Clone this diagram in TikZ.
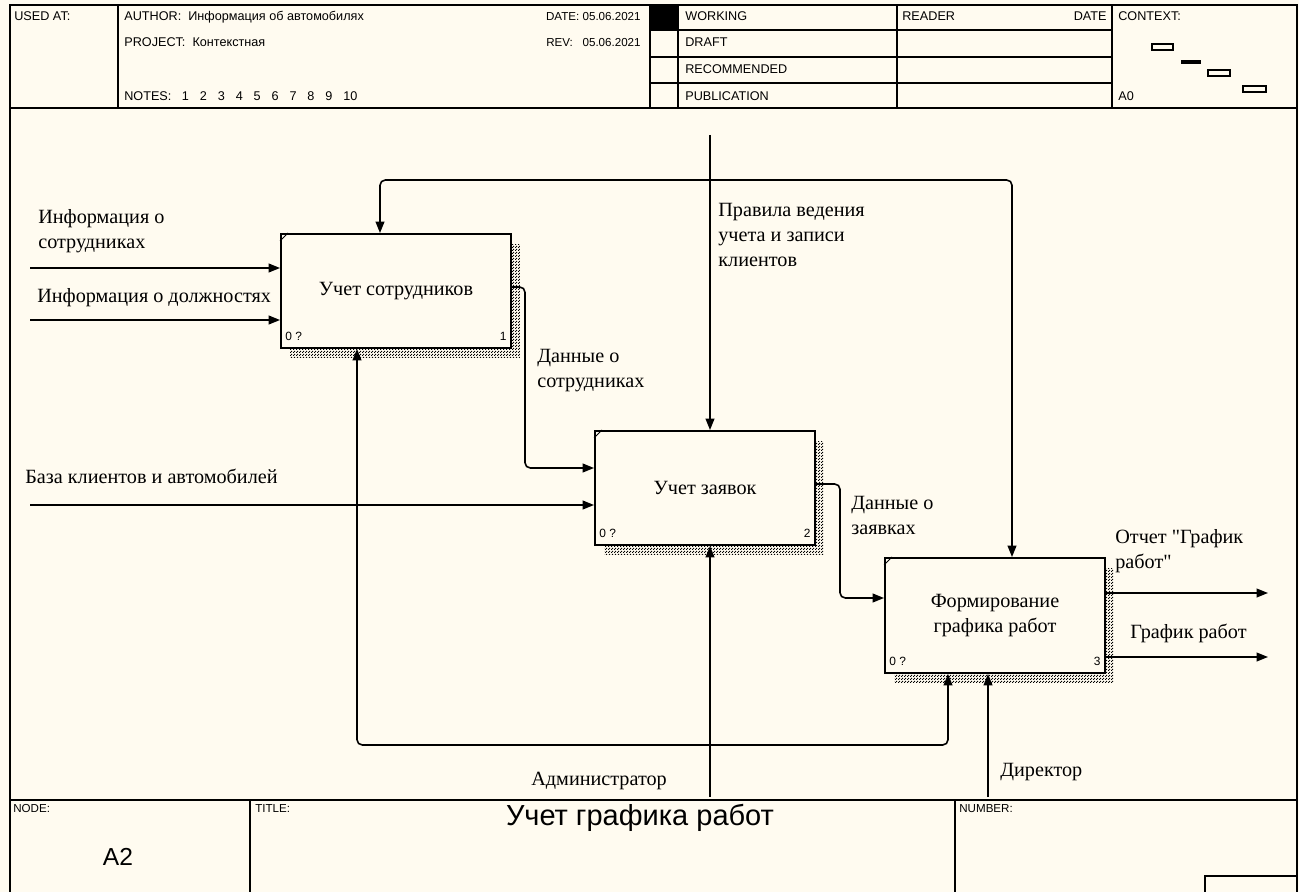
\documentclass[tikz,border=0pt]{standalone}
\usepackage{fontspec}
\setmainfont{Liberation Serif}
\newfontfamily\hdrfont{Liberation Sans}
\usetikzlibrary{arrows.meta,patterns,shadows,positioning}
\definecolor{paper}{HTML}{FFFBF0}
\pgfdeclarepatternformonly{hatchdots}{\pgfpointorigin}{\pgfqpoint{1.4pt}{1.4pt}}{\pgfqpoint{1.4pt}{1.4pt}}{%
  \pgfpathrectangle{\pgfpointorigin}{\pgfqpoint{0.8pt}{0.8pt}}%
  \pgfpathrectangle{\pgfqpoint{0.7pt}{0.7pt}}{\pgfqpoint{0.8pt}{0.8pt}}%
  \pgfusepath{fill}}

\begin{document}
\begin{tikzpicture}[x=0.02cm, y=-0.02cm,
    frame/.style={line width=1.1pt},
    grid/.style={line width=0.8pt},
    hdr/.style={font=\hdrfont\fontsize{7.2}{8}\selectfont, inner sep=0pt, anchor=base west},
    lbl/.style={font=\fontsize{11.5}{14.2}\selectfont, align=left, inner sep=0pt, anchor=north west},
    func/.style={draw, line width=1.1pt, fill=paper, minimum width=4.4cm, minimum height=2.28cm,
      inner sep=0pt, align=center, font=\fontsize{11.5}{14.2}\selectfont,
      general shadow={shadow xshift=0.18cm, shadow yshift=-0.2cm, pattern=hatchdots, pattern color=black}},
    tick/.style={line width=0.5pt},
    tag/.style={font=\hdrfont\fontsize{6.8}{7}\selectfont, inner sep=0pt},
    flow/.style={line width=0.9pt, rounded corners=3pt, -{Triangle[length=6.5pt,width=5pt]}}]

  \fill [paper] (0,0) rectangle (1299,892);
  \useasboundingbox (0,0) rectangle (1299,892);

  \draw [frame] (10,892) -- (10,5) -- (1297,5) -- (1297,892);
  \draw [frame] (10,108) -- (1297,108);
  \draw [grid] (118,5) -- (118,108);
  \draw [grid] (650,5) -- (650,108);
  \draw [grid] (678,5) -- (678,108);
  \draw [grid] (897,5) -- (897,108);
  \draw [grid] (1112,5) -- (1112,108);
  \fill (650,5) rectangle (678,30);
  \draw [grid] (650,30) -- (1112,30);
  \draw [grid] (650,57) -- (1112,57);
  \draw [grid] (650,83) -- (1112,83);
  \draw [grid] (1152,44) rectangle (1173,50);
  \fill (1181,60) rectangle (1201,64);
  \draw [grid] (1208,70) rectangle (1230,76);
  \draw [grid] (1243,86) rectangle (1266,92);

  \node [hdr] (usedat) at (14,21) {USED AT:};
  \node [hdr] (author) at (124,21) {AUTHOR:\ \ Информация об автомобилях};
  \node [hdr] (project) at (124,47) {PROJECT:\ \ Контекстная};
  \node [hdr] (notes) at (124,101) {NOTES:\hspace{6pt}1\hspace{6.2pt}2\hspace{6.2pt}3\hspace{6.2pt}4\hspace{6.2pt}5\hspace{6.2pt}6\hspace{6.2pt}7\hspace{6.2pt}8\hspace{6.2pt}9\hspace{6.2pt}10};
  \node [hdr, anchor=base east, font=\hdrfont\fontsize{6.6}{8}\selectfont] (date) at (641,21) {DATE: 05.06.2021};
  \node [hdr, anchor=base east, font=\hdrfont\fontsize{6.6}{8}\selectfont] (rev) at (641,47) {REV:\ \ \ 05.06.2021};
  \node [hdr] (working) at (685,21) {WORKING};
  \node [hdr] (draft) at (685,47) {DRAFT};
  \node [hdr] (recommended) at (685,74) {RECOMMENDED};
  \node [hdr] (publication) at (685,101) {PUBLICATION};
  \node [hdr] (reader) at (902,21) {READER};
  \node [hdr, anchor=base east] (readerdate) at (1107,21) {DATE};
  \node [hdr] (context) at (1118,21) {CONTEXT:};
  \node [hdr] (ctxnode) at (1118,101) {A0};

  \draw [frame] (10,800) -- (1297,800);
  \draw [grid] (250,800) -- (250,892);
  \draw [grid] (955,800) -- (955,892);
  \draw [grid] (1205,892) -- (1205,876) -- (1297,876);
  \node [hdr, anchor=north west, font=\hdrfont\fontsize{6.6}{8}\selectfont] (nodelbl) at (13,804) {NODE:};
  \node [hdr, anchor=north west, font=\hdrfont\fontsize{6.6}{8}\selectfont] (titlelbl) at (255,804) {TITLE:};
  \node [hdr, anchor=north west, font=\hdrfont\fontsize{6.6}{8}\selectfont] (numberlbl) at (959,804) {NUMBER:};
  \node [font=\hdrfont\fontsize{14}{16}\selectfont, inner sep=0pt] (nodeid) at (118,857) {A2};
  \node [font=\hdrfont\fontsize{16.5}{18}\selectfont, inner sep=0pt] (title) at (640,818) {Учет графика работ};

  \node [func, minimum width=4.6cm] (b1) at (396,291) {Учет сотрудников};
  \node [func] (b2) at (705,488) {Учет заявок};
  \node [func, minimum height=2.3cm] (b3) at (995,615.5) {Формирование\\графика работ};
  \foreach \b/\n in {b1/1, b2/2, b3/3} {
    \draw [tick] ([shift={(0,8)}]\b.north west) -- ([shift={(8,0)}]\b.north west);
    \node [tag, anchor=base west] (q\n) at ([shift={(5,-8)}]\b.south west) {0 ?};
    \node [tag, anchor=base east] (n\n) at ([shift={(-5,-8)}]\b.south east) {\n};
  }

  \coordinate (src1) at (30,268);
  \coordinate (src2) at (30,320);
  \coordinate (src3) at (30,505);
  \draw [flow] (src1) -- (b1.west |- src1);
  \draw [flow] (src2) -- (b1.west |- src2);
  \draw [flow] (src3) -- (b2.west |- src3);

  \coordinate (t12) at (525,287);
  \coordinate (e12) at (595,468);
  \coordinate (t23) at (840,484);
  \coordinate (e23) at (885,598);
  \draw [flow] (b1.east |- t12) -- (t12) |- (b2.west |- e12);
  \draw [flow] (b2.east |- t23) -- (t23) |- (b3.west |- e23);

  \coordinate (ctop) at (710,135);
  \coordinate (cj) at (710,180);
  \coordinate (c1) at (380,180);
  \coordinate (c3) at (1012,180);
  \draw [flow] (ctop) -- (b2.north -| ctop);
  \draw [flow] (cj) -- (c1) -- (c1 |- b1.north);
  \draw [flow] (cj) -- (c3) -- (c3 |- b3.north);

  \coordinate (mbot) at (710,797);
  \coordinate (mj) at (710,745);
  \coordinate (m1) at (357,745);
  \coordinate (m3) at (948,745);
  \coordinate (dbot) at (988,797);
  \draw [flow] (mbot) -- (b2.south -| mbot);
  \draw [flow] (mj) -- (m1) -- (m1 |- b1.south);
  \draw [flow] (mj) -- (m3) -- (m3 |- b3.south);
  \draw [flow] (dbot) -- (b3.south -| dbot);

  \coordinate (out1) at (1268,593);
  \coordinate (out2) at (1268,657);
  \draw [flow] (b3.east |- out1) -- (out1);
  \draw [flow] (b3.east |- out2) -- (out2);

  \node [lbl] (infoemp) at (38,209) {Информация о\\сотрудниках};
  \node [lbl] (infopos) at (37,288) {Информация о должностях};
  \node [lbl] (clients) at (25,469) {База клиентов и автомобилей};
  \node [lbl] (rules) at (718,203) {Правила ведения\\учета и записи\\клиентов};
  \node [lbl] (empdata) at (537,349) {Данные о\\сотрудниках};
  \node [lbl] (reqdata) at (851,496) {Данные о\\заявках};
  \node [lbl] (report) at (1115,529) {Отчет \textquotedbl График\\работ\textquotedbl};
  \node [lbl] (sched) at (1130,624) {График работ};
  \node [lbl] (admin) at (531,772) {Администратор};
  \node [lbl] (director) at (1000,763) {Директор};
\end{tikzpicture}
\end{document}
